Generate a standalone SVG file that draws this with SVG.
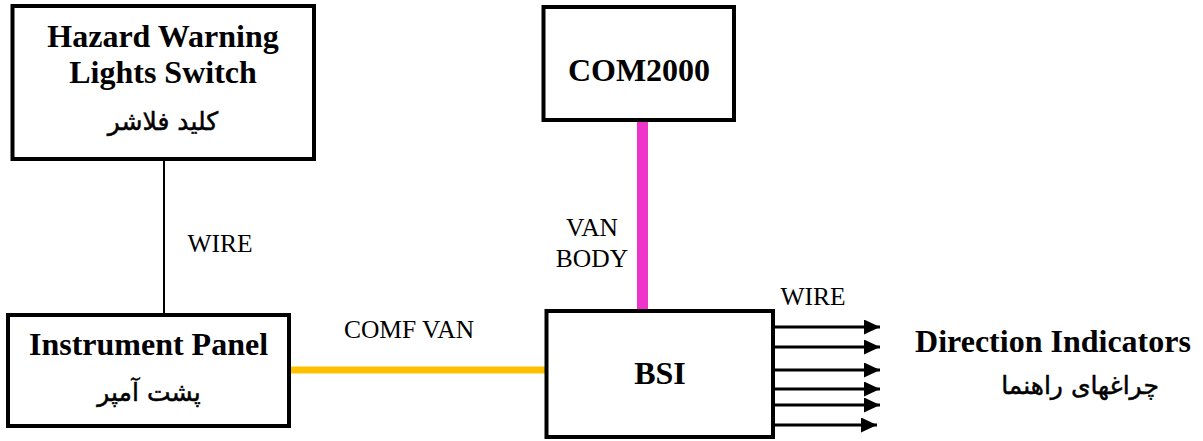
<svg xmlns="http://www.w3.org/2000/svg" width="1203" height="441" viewBox="0 0 1203 441">
<style>
.box{fill:#fff;stroke:#000;stroke-width:4}
.t{font-family:"Liberation Serif","Times New Roman",serif;font-weight:bold;font-size:32px;text-anchor:middle;fill:#000}
.fa{font-family:"DejaVu Sans",sans-serif;font-size:25px;text-anchor:middle;fill:#000;stroke:#000;stroke-width:0.5}
.lbl{font-family:"Liberation Serif","Times New Roman",serif;font-size:25.5px;text-anchor:middle;fill:#000}
.wire{stroke:#000;stroke-width:3;fill:none}
</style>
<defs>
<marker id="ah" markerUnits="userSpaceOnUse" markerWidth="17" markerHeight="16" refX="16" refY="7.5" orient="auto">
<polygon points="0,0 16,7.5 0,15" fill="#000"/>
</marker>
</defs>
<rect width="1203" height="441" fill="#fff"/>
<g id="connectors">
<line x1="164" y1="159" x2="164" y2="315" stroke="#000" stroke-width="2"/>
<line x1="291" y1="370" x2="545" y2="370" stroke="#FFC000" stroke-width="7"/>
<line x1="642.5" y1="122" x2="642.5" y2="309" stroke="#EE34C9" stroke-width="11"/>
<line class="wire" x1="775" y1="327" x2="880" y2="327" marker-end="url(#ah)"/>
<line class="wire" x1="775" y1="347" x2="880" y2="347" marker-end="url(#ah)"/>
<line class="wire" x1="775" y1="370" x2="880" y2="370" marker-end="url(#ah)"/>
<line class="wire" x1="775" y1="389" x2="880" y2="389" marker-end="url(#ah)"/>
<line class="wire" x1="775" y1="405" x2="880" y2="405" marker-end="url(#ah)"/>
<line class="wire" x1="775" y1="425" x2="877" y2="425" marker-end="url(#ah)"/>
<text class="lbl" x="220" y="252">WIRE</text>
<text class="lbl" x="409" y="338">COMF VAN</text>
<text class="lbl" x="592" y="236">VAN</text>
<text class="lbl" x="592" y="267">BODY</text>
<text class="lbl" x="813" y="305">WIRE</text>
</g>
<g id="hazard">
<rect class="box" x="12.5" y="6" width="301.5" height="153"/>
<text class="t" x="163" y="47">Hazard Warning</text>
<text class="t" x="163" y="83">Lights Switch</text>
<text class="fa" x="163" y="130">کلید فلاشر</text>
</g>
<g id="com2000">
<rect class="box" x="543.5" y="7" width="190.5" height="113"/>
<text class="t" x="639" y="81">COM2000</text>
</g>
<g id="instrument">
<rect class="box" x="8" y="315" width="281" height="111"/>
<text class="t" x="148.5" y="355">Instrument Panel</text>
<text class="fa" x="149" y="401">پشت آمپر</text>
</g>
<g id="bsi">
<rect class="box" x="546.5" y="311" width="226.5" height="126"/>
<text class="t" x="660" y="384">BSI</text>
</g>
<g id="direction">
<text class="t" x="1053" y="352">Direction Indicators</text>
<text class="fa" x="1080" y="394">چراغهای راهنما</text>
</g>
</svg>
